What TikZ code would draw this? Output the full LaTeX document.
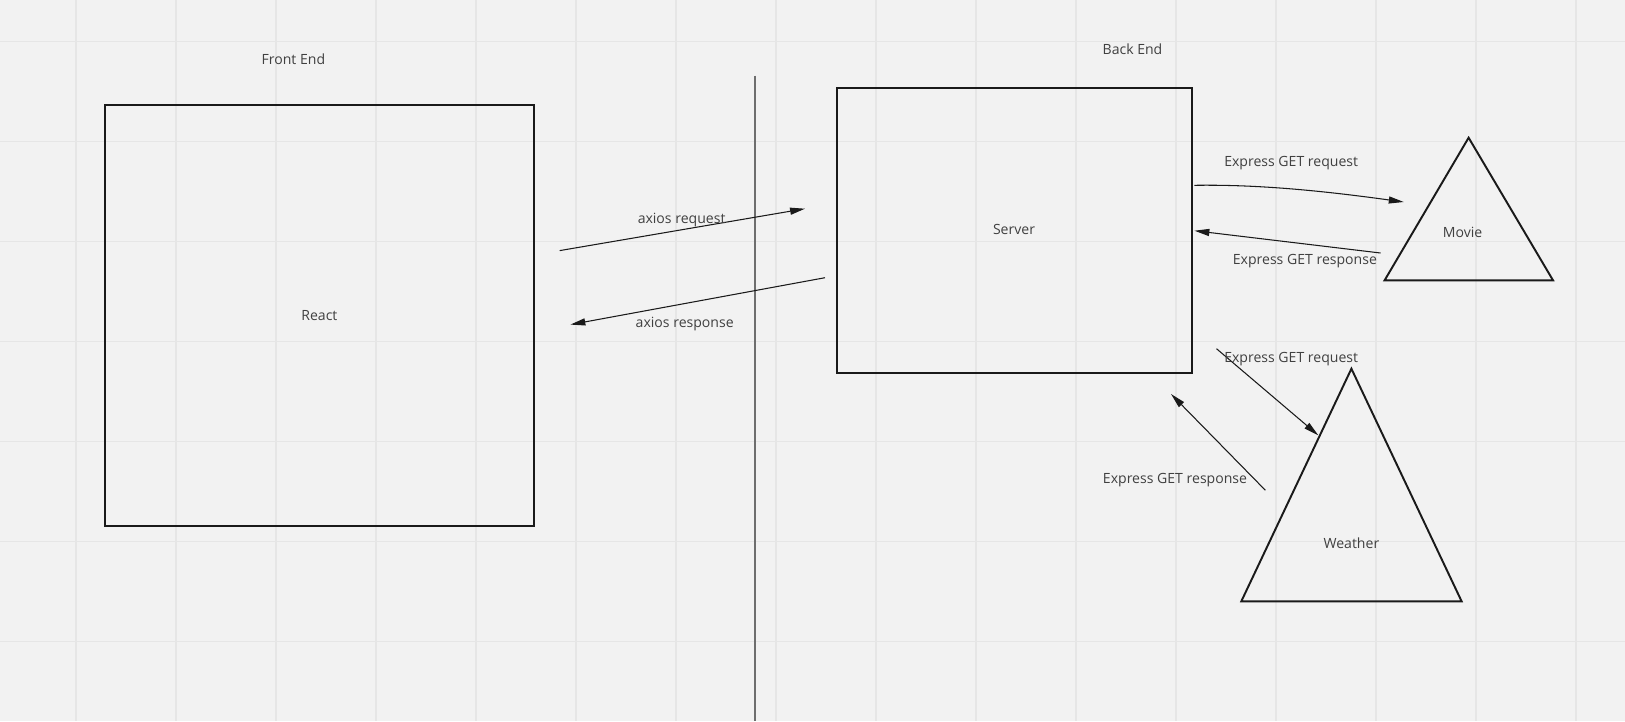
\documentclass[tikz,border=0pt]{standalone}
\usepackage{fontspec}
\setmainfont{Open Sans}
\usetikzlibrary{arrows.meta}
\definecolor{bgc}{HTML}{F2F2F2}
\definecolor{gridc}{HTML}{E6E6E6}
\definecolor{linec}{HTML}{1A1A1A}
\definecolor{txtc}{HTML}{404040}
\definecolor{sepc}{HTML}{6E6E6E}
\tikzset{
  lbl/.style={inner sep=0pt, text depth=0pt, text=txtc, font=\fontsize{8pt}{9.6pt}\selectfont},
  shapebox/.style={draw=linec, line width=1.1pt, fill=none},
  conn/.style={draw=linec, line width=0.6pt, -{Triangle[length=8.5pt,width=4pt]}},
}
\begin{document}
\begin{tikzpicture}[x=0.02cm, y=-0.02cm]
\fill[bgc] (0,0) rectangle (1625,721);
\useasboundingbox (0,0) rectangle (1625,721);
% grid
\foreach \gx in {76,176,...,1576} \draw[gridc, line width=0.6pt] (\gx,0) -- (\gx,721);
\foreach \gy in {41.7,141.7,...,700} \draw[gridc, line width=0.6pt] (0,\gy) -- (1625,\gy);
% separator
\coordinate (septop) at (755,75.7);
\coordinate (sepbot) at (755,721);
\draw[sepc, line width=0.85pt] (septop) -- (sepbot);
% titles
\node[lbl] (front) at (293.4,58.9) {Front End};
\node[lbl] (back) at (1132.5,49) {Back End};
% boxes
\draw[shapebox] (104.6,104.8) rectangle (534.2,526.4);
\node[lbl] (react) at (319.4,315) {React};
\draw[shapebox] (836.7,87.7) rectangle (1192,372.7);
\node[lbl] (server) at (1014,229) {Server};
% triangles
\draw[shapebox, line join=miter] (1468.6,137.7) -- (1553,280.3) -- (1384.6,280.3) -- cycle;
\node[lbl] (movie) at (1462.6,232) {Movie};
\draw[shapebox, line join=miter] (1351.4,368.7) -- (1461.6,601.3) -- (1241.3,601.3) -- cycle;
\node[lbl] (weather) at (1351.4,542.7) {Weather};
% connector endpoints
\coordinate (aq1) at (559.7,250.6);
\coordinate (aq2) at (805,208.7);
\coordinate (ar1) at (825,277.7);
\coordinate (ar2) at (570.4,324.6);
\coordinate (mq1) at (1194.4,185.3);
\coordinate (mq2) at (1403.7,202);
\coordinate (mr1) at (1380.5,253);
\coordinate (mr2) at (1194.4,230.7);
\coordinate (wq1) at (1216.5,348.7);
\coordinate (wq2) at (1318.3,435.3);
\coordinate (wr1) at (1265.4,490.3);
\coordinate (wr2) at (1171,394);
% connectors
\draw[conn] (aq1) -- (aq2);
\draw[conn] (ar1) -- (ar2);
\draw[conn] (mq1) .. controls (1250,184.5) and (1310,189) .. (mq2);
\draw[conn] (mr1) -- (mr2);
\draw[conn] (wq1) -- (wq2);
\draw[conn] (wr1) -- (wr2);
% connector labels
\node[lbl] (aql) at (681.6,218) {axios request};
\node[lbl] (arl) at (684.7,322.8) {axios response};
\node[lbl] (mql) at (1291.2,161) {Express GET request};
\node[lbl] (mrl) at (1304.9,259) {Express GET response};
\node[lbl] (wql) at (1291.2,357) {Express GET request};
\node[lbl] (wrl) at (1175,478) {Express GET response};
\end{tikzpicture}
\end{document}
